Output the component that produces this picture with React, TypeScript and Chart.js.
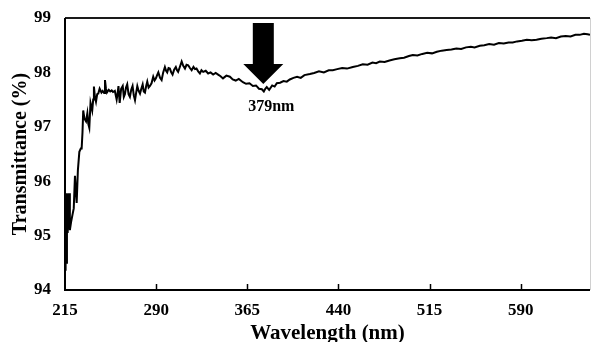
import React, { useEffect, useRef } from "react";
import { Chart, registerables } from "chart.js";

Chart.register(...registerables);

const wavelengths = [
  215, 215.5, 216, 216.6, 217.2, 218.3, 219, 220, 221.3, 222.2, 223.2, 224, 224.6, 225.6, 226.8, 228, 228.7, 229.4,
  230, 231, 232.3, 233.4, 234.2, 235, 236, 237.4, 238.2, 238.8, 239.6, 240.5, 241.5, 242.4, 243.5, 245, 246, 247.2,
  247.9, 248.7, 249.5, 251, 252.2, 253.4, 254.5, 256, 257.5, 258.3, 259, 260, 261.2, 262.5, 263.4, 264.3, 265.2,
  266.2, 267.3, 268.4, 269.5, 270.6, 271.6, 272.6, 273.5, 274.5, 275.6, 276.7, 277.8, 278.9, 279.8, 280.8, 281.8,
  282.7, 283.8, 284.9, 286.2, 287.6, 288.7, 289.8, 290.8, 291.8, 293.2, 294.5, 295.8, 297.2, 298.2, 299.1, 300.2,
  301.3, 302.4, 303.5, 304.8, 306.2, 307.2, 308.1, 309.5, 311, 312.3, 313.7, 315, 316.4, 317.8, 319.2, 320.7, 322,
  323.2, 324.6, 326, 327.3, 328.7, 330.8, 332.8, 334.8, 336.9, 339, 341, 343, 345, 347.8, 350.7, 353, 355.5, 358,
  361.4, 364, 366.8, 369.6, 372.2, 374.6, 377, 378.6, 379.8, 381, 383, 385.5, 387.5, 389.3, 392, 394.8, 397.5, 400,
  403, 406, 409, 412, 416.5, 420, 424, 428, 432, 435.4, 439, 443, 447, 451.8, 456, 460, 464, 468, 471, 474, 478, 482,
  486, 490.5, 494, 498, 501.2, 505, 509, 513, 517, 521, 525, 529, 533, 537, 541, 545, 549, 552, 556.3, 560, 564, 568,
  572, 576, 580, 583.4, 587, 591, 595, 599, 603, 607, 611.4, 615, 619, 623, 627, 631, 635, 638.5, 642, 645, 647,
];

const transmittance = [
  94.37, 95.2, 94.5, 95.78, 95.05, 95.78, 95.1, 95.25, 95.4, 95.5, 96.1, 95.8, 95.6, 96.2, 96.54, 96.6, 96.6, 96.9,
  97.3, 97.15, 97.1, 97.25, 97.05, 96.98, 97.44, 97.3, 97.5, 97.74, 97.55, 97.46, 97.6, 97.61, 97.7, 97.63, 97.66,
  97.62, 97.86, 97.7, 97.63, 97.68, 97.65, 97.67, 97.64, 97.66, 97.5, 97.62, 97.75, 97.44, 97.7, 97.75, 97.55, 97.6,
  97.72, 97.78, 97.6, 97.55, 97.68, 97.75, 97.58, 97.49, 97.62, 97.75, 97.66, 97.61, 97.7, 97.78, 97.65, 97.63,
  97.75, 97.83, 97.72, 97.75, 97.8, 97.92, 97.85, 97.89, 97.95, 98.0, 97.9, 97.86, 98.0, 98.1, 98.03, 98.0, 98.08,
  98.07, 98.0, 97.96, 98.05, 98.1, 98.04, 98.01, 98.1, 98.2, 98.12, 98.07, 98.14, 98.13, 98.08, 98.04, 98.1, 98.06,
  98.07, 98.02, 97.98, 98.04, 98.01, 98.03, 97.98, 98.0, 97.96, 97.99, 97.96, 97.93, 97.89, 97.94, 97.92, 97.87,
  97.85, 97.88, 97.82, 97.79, 97.8, 97.75, 97.76, 97.7, 97.69, 97.65, 97.7, 97.73, 97.68, 97.76, 97.74, 97.8,
  97.81, 97.84, 97.83, 97.87, 97.9, 97.92, 97.9, 97.95, 97.97, 97.99, 98.02, 98.0, 98.04, 98.04, 98.06, 98.08,
  98.07, 98.1, 98.12, 98.15, 98.14, 98.18, 98.17, 98.2, 98.19, 98.22, 98.24, 98.26, 98.27, 98.3, 98.32, 98.31,
  98.34, 98.36, 98.35, 98.38, 98.4, 98.41, 98.42, 98.44, 98.43, 98.46, 98.47, 98.46, 98.49, 98.5, 98.52, 98.51,
  98.54, 98.53, 98.55, 98.55, 98.57, 98.58, 98.6, 98.59, 98.6, 98.62, 98.63, 98.64, 98.63, 98.66, 98.67, 98.66,
  98.69, 98.69, 98.71, 98.7, 98.69,
];

const xTicks = [215, 290, 365, 440, 515, 590];
const xMin = 215;
const xMax = 647;
const yMin = 94;
const yMax = 99;
const xTitle = "Wavelength (nm)";
const yTitle = "Transmittance (%)";
const peakX = 379;
const peakLabel = "379nm";

const FONT = '"Liberation Serif", "Times New Roman", serif';

export default function App() {
  const ref = useRef<HTMLCanvasElement>(null);

  useEffect(() => {
    document.body.style.margin = "0";
    const canvas = ref.current;
    if (!canvas) return;

    const framePlugin = {
      id: "frame",
      afterDraw(chart: any) {
        const { ctx, chartArea: a, scales } = chart;
        const xs = scales.x;
        ctx.save();
        // top border
        ctx.strokeStyle = "#1a1a1a";
        ctx.lineWidth = 2;
        ctx.beginPath();
        ctx.moveTo(a.left, a.top);
        ctx.lineTo(a.right, a.top);
        ctx.stroke();
        // right border (light)
        ctx.strokeStyle = "#d0d0d0";
        ctx.lineWidth = 1;
        ctx.beginPath();
        ctx.moveTo(a.right + 0.5, a.top);
        ctx.lineTo(a.right + 0.5, a.bottom);
        ctx.stroke();
        // left & bottom axes
        ctx.strokeStyle = "#000";
        ctx.lineWidth = 2;
        ctx.beginPath();
        ctx.moveTo(a.left, a.top);
        ctx.lineTo(a.left, a.bottom);
        ctx.lineTo(a.right, a.bottom);
        ctx.stroke();
        // inward x tick marks
        ctx.lineWidth = 1.5;
        for (const t of xTicks) {
          if (t <= xMin) continue;
          const x = Math.round(xs.getPixelForValue(t)) + 0.5;
          ctx.beginPath();
          ctx.moveTo(x, a.bottom);
          ctx.lineTo(x, a.bottom - 6);
          ctx.stroke();
        }
        // arrow
        const ax = xs.getPixelForValue(peakX) - 1;
        const shaftTop = a.top + 5;
        const shaftBot = a.top + 46;
        const tip = a.top + 66;
        ctx.fillStyle = "#000";
        ctx.beginPath();
        ctx.moveTo(ax - 10.5, shaftTop);
        ctx.lineTo(ax + 10.5, shaftTop);
        ctx.lineTo(ax + 10.5, shaftBot);
        ctx.lineTo(ax + 20, shaftBot);
        ctx.lineTo(ax, tip);
        ctx.lineTo(ax - 20, shaftBot);
        ctx.lineTo(ax - 10.5, shaftBot);
        ctx.closePath();
        ctx.fill();
        // label
        ctx.font = `bold 16px ${FONT}`;
        ctx.textAlign = "center";
        ctx.textBaseline = "middle";
        ctx.fillText(peakLabel, ax + 8, a.top + 89);
        ctx.restore();
      },
    };

    const points = wavelengths.map((x, i) => ({ x, y: transmittance[i] }));

    const chart = new Chart(canvas, {
      type: "line",
      data: {
        datasets: [
          {
            data: points,
            borderColor: "#000",
            borderWidth: 2,
            pointRadius: 0,
            tension: 0,
            fill: false,
          },
        ],
      },
      options: {
        animation: false,
        responsive: true,
        maintainAspectRatio: false,
        layout: { padding: { top: 18, right: 2, left: 0, bottom: 0 } },
        plugins: { legend: { display: false }, tooltip: { enabled: false } },
        scales: {
          x: {
            type: "linear",
            min: xMin,
            max: xMax,
            grid: { display: false },
            border: { display: false },
            afterBuildTicks: (scale: any) => {
              scale.ticks = xTicks.map((v) => ({ value: v }));
            },
            afterFit: (scale: any) => {
              scale.height = 52;
            },
            ticks: {
              color: "#000",
              padding: 2,
              maxRotation: 0,
              autoSkip: false,
              font: { family: FONT, size: 17, weight: "bold" },
            },
            title: {
              display: true,
              text: xTitle,
              color: "#000",
              padding: 0,
              font: { family: FONT, size: 21, weight: "bold", lineHeight: 0.8 },
            },
          },
          y: {
            type: "linear",
            min: yMin,
            max: yMax,
            grid: { display: false },
            border: { display: false },
            afterFit: (scale: any) => {
              scale.width = 65;
            },
            ticks: {
              stepSize: 1,
              color: "#000",
              padding: 6,
              font: { family: FONT, size: 17, weight: "bold" },
            },
            title: {
              display: true,
              text: yTitle,
              color: "#000",
              padding: { top: 10, bottom: 0 },
              font: { family: FONT, size: 20, weight: "bold", lineHeight: 1.1 },
            },
          },
        },
      },
      plugins: [framePlugin],
    });

    return () => chart.destroy();
  }, []);

  return (
    <div style={{ position: "relative", width: 592, height: 342 }}>
      <canvas ref={ref} />
    </div>
  );
}
